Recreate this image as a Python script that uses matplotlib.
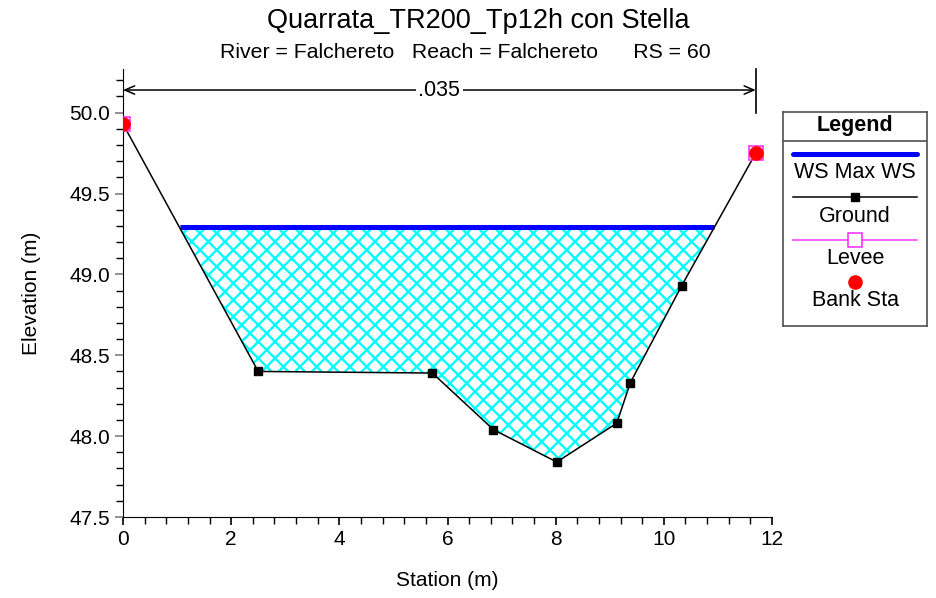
import numpy as np
import matplotlib
matplotlib.use("Agg")
import matplotlib.pyplot as plt
from matplotlib.ticker import MultipleLocator, FormatStrFormatter

plt.rcParams['font.family'] = ['Liberation Sans', 'DejaVu Sans']
plt.rcParams['hatch.linewidth'] = 1.7

# ---- data ----
station = [0.0, 2.50, 5.72, 6.85, 8.02, 9.13, 9.38, 10.33, 11.70]
ground = [49.93, 48.40, 48.39, 48.04, 47.84, 48.08, 48.33, 48.93, 49.75]
ws_max = 49.29
levee_sta = [0.0, 11.70]
levee_elev = [49.93, 49.75]
bank_sta = [0.0, 11.70]
bank_elev = [49.93, 49.75]
n_value = ".035"
title = "Quarrata_TR200_Tp12h con Stella"
subtitle = "River = Falchereto   Reach = Falchereto      RS = 60"

W, H = 936, 598
fig = plt.figure(figsize=(W / 100, H / 100), dpi=100)
ax = fig.add_axes([123 / W, 1 - 517 / H, (772 - 123) / W, (517 - 69) / H])

x = np.array(station)
g = np.array(ground)

# water surface extents (intersections with ground)
xf = np.linspace(x[0], x[-1], 4001)
gf = np.interp(xf, x, g)
wet = xf[gf <= ws_max]
xl, xr = wet.min(), wet.max()

ax.fill_between(xf, gf, ws_max, where=gf <= ws_max, interpolate=True,
                facecolor='none', edgecolor='#00ffff', hatch='xx', linewidth=0)
ax.plot([xl, xr], [ws_max, ws_max], color='#0000ff', lw=3.6, solid_capstyle='butt', zorder=4)
ax.plot(x, g, color='black', lw=1.1, zorder=5)
ax.plot(x[1:-1], g[1:-1], 's', color='black', ms=5.5, zorder=6)
ax.plot(levee_sta, levee_elev, 's', mfc='none', mec='#ff33ff', ms=10, mew=1.2, zorder=7)
ax.plot(bank_sta, bank_elev, 'o', color='#ff0000', ms=9.5, zorder=8)

ax.set_xlim(0, 12)
ax.set_ylim(47.5, 50.27)
ax.spines['top'].set_visible(False)
ax.spines['right'].set_visible(False)
ax.xaxis.set_major_locator(MultipleLocator(2))
ax.xaxis.set_minor_locator(MultipleLocator(0.4))
ax.yaxis.set_major_locator(MultipleLocator(0.5))
ax.yaxis.set_minor_locator(MultipleLocator(0.1))
ax.yaxis.set_major_formatter(FormatStrFormatter('%.1f'))
ax.tick_params(axis='both', which='major', labelsize=15, length=6, color='#808080', width=1.2)
ax.tick_params(axis='both', which='minor', length=5, color='black', width=1)
ax.tick_params(axis='x', which='major', color='black', length=6)
ax.set_xlabel('Station (m)', fontsize=15, labelpad=16)
ax.set_ylabel('Elevation (m)', fontsize=15, labelpad=20)

# n-value annotation
y_arrow = 50.14
ax.annotate('', xy=(bank_sta[0], y_arrow), xytext=(bank_sta[1], y_arrow),
            arrowprops=dict(arrowstyle='<->,head_length=0.7,head_width=0.3', lw=1.1, color='black',
                            shrinkA=0, shrinkB=0), annotation_clip=False)
ax.plot([bank_sta[1], bank_sta[1]], [50.0, 50.27], color='black', lw=1.2, clip_on=False)
ax.text((bank_sta[0] + bank_sta[1]) / 2, y_arrow, n_value, ha='center', va='center', fontsize=15.5,
        bbox=dict(facecolor='white', edgecolor='none', pad=2), zorder=10)

fig.text(478 / W, 1 - 21 / H, title, ha='center', va='center', fontsize=19.5)
fig.text(465 / W, 1 - 52 / H, subtitle, ha='center', va='center', fontsize=15.3)

# legend
lg = fig.add_axes([783 / W, 1 - 326 / H, 144 / W, 214 / H])
lg.set_xlim(783, 927)
lg.set_ylim(326, 112)
lg.set_xticks([]); lg.set_yticks([])
for s in lg.spines.values():
    s.set_color('#505050'); s.set_linewidth(1.2)
lg.plot([783, 927], [141, 141], color='#505050', lw=1.2)
lg.text(855, 126, 'Legend', ha='center', va='center', fontsize=15.5, fontweight='bold')
lg.plot([793, 917], [154, 154], color='#0000ff', lw=3.6, solid_capstyle='round')
lg.text(855, 173, 'WS Max WS', ha='center', va='center', fontsize=15.5)
lg.plot([793, 917], [197, 197], color='black', lw=1.1)
lg.plot([855], [197], 's', color='black', ms=5.5)
lg.text(855, 216, 'Ground', ha='center', va='center', fontsize=15.5)
lg.plot([793, 917], [240, 240], color='#ff33ff', lw=1.1)
lg.plot([855], [240], 's', mfc='white', mec='#ff33ff', ms=10, mew=1.2)
lg.text(855, 259, 'Levee', ha='center', va='center', fontsize=15.5)
lg.plot([855], [282], 'o', color='#ff0000', ms=9.5)
lg.text(855, 301, 'Bank Sta', ha='center', va='center', fontsize=15.5)

fig.savefig('out.png', dpi=100)
